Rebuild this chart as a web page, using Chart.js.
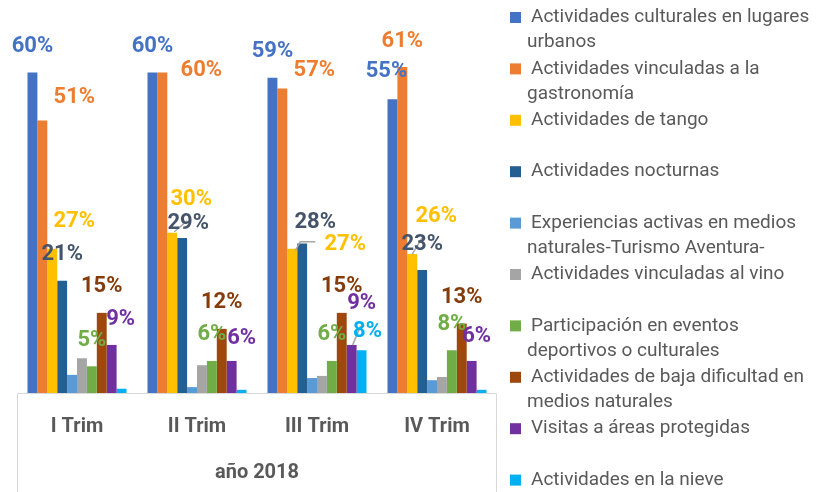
<!DOCTYPE html>
<html>
<head>
<meta charset="utf-8">
<script src="https://cdn.jsdelivr.net/npm/chart.js@4"></script>
<style>
    html, body { margin: 0; padding: 0; background: #ffffff; }
    #wrap { width: 822px; height: 492px; }
</style>
</head>
<body>
<div id="wrap"><canvas id="actChart" width="822" height="492"></canvas></div>
<script>
// quarters
const categories = ['I Trim', 'II Trim', 'III Trim', 'IV Trim'];
const axisTitle = 'año 2018';

// series names (wrapped the way the legend shows them)
const seriesNames = [
    ['Actividades culturales en lugares', 'urbanos'],
    ['Actividades vinculadas a la', 'gastronomía'],
    ['Actividades de tango'],
    ['Actividades nocturnas'],
    ['Experiencias activas en medios', 'naturales-Turismo Aventura-'],
    ['Actividades vinculadas al vino'],
    ['Participación en eventos', 'deportivos o culturales'],
    ['Actividades de baja dificultad en', 'medios naturales'],
    ['Visitas a áreas protegidas'],
    ['Actividades en la nieve']
];

// values in %
const culturales = [60, 60, 59, 55];
const gastronomia = [51, 60, 57, 61];
const tango = [27, 30, 27, 26];
const nocturnas = [21, 29, 28, 23];
const aventura = [3.4, 1.1, 2.8, 2.4];
const vino = [6.5, 5.2, 3.2, 3.0];
const eventos = [5, 6, 6, 8];
const bajaDificultad = [15, 12, 15, 13];
const protegidas = [9, 6, 9, 6];
const nieve = [0.8, 0.6, 8, 0.6];

const seriesValues = [culturales, gastronomia, tango, nocturnas, aventura,
    vino, eventos, bajaDificultad, protegidas, nieve];

const barColors = ['#4472C4', '#ED7D31', '#FFC000', '#255E91', '#5B9BD5',
    '#A5A5A5', '#70AD47', '#9E480E', '#7030A0', '#00B0F0'];
const labelColors = ['#4472C4', '#ED7D31', '#FFC000', '#44546A', '#5B9BD5',
    '#A5A5A5', '#70AD47', '#843C0C', '#7030A0', '#00B0F0'];

// labels that are not shown in the original
const hiddenLabels = ['4,0', '4,1', '4,2', '4,3', '5,0', '5,1', '5,2', '5,3',
    '9,0', '9,1', '9,3'];
// hand-moved labels: [dx, dy] from the bar top
const labelNudges = {
    '1,0': [32, -23], '2,0': [22, -27], '8,0': [9, -25],
    '1,1': [39, -2], '2,1': [19, -33], '3,1': [6, -15], '8,1': [10, -22],
    '1,2': [32, -18], '2,2': [53, -4], '3,2': [13, -21], '8,2': [10, -41], '9,2': [6, -19],
    '0,3': [-6, -28], '2,3': [24, -38], '8,3': [5, -24]
};
// leader lines, points relative to a bar top
const leaders = {
    '2,1': [[2, -1], [15, -12]],
    '2,2': [[3, 2], [8, -7], [23, -7]],
    '2,3': [[0, 0], [11, -18]],
    '8,2': [[1, 0], [9, -19]]
};

const TEXT = '#595959';
const FONT = 'Roboto, "Liberation Sans", sans-serif';

const valueLabels = {
    id: 'valueLabels',
    afterDatasetsDraw(chart) {
        const ctx = chart.ctx;
        ctx.save();
        // leader lines first
        ctx.strokeStyle = '#A6A6A6';
        ctx.lineWidth = 1.5;
        Object.entries(leaders).forEach(([key, pts]) => {
            const [i, j] = key.split(',').map(Number);
            const bar = chart.getDatasetMeta(i).data[j];
            ctx.beginPath();
            pts.forEach((p, k) => {
                if (k === 0) ctx.moveTo(bar.x + p[0], bar.y + p[1]);
                else ctx.lineTo(bar.x + p[0], bar.y + p[1]);
            });
            ctx.stroke();
        });

        ctx.font = 'bold 22px ' + FONT;
        ctx.textAlign = 'center';
        ctx.textBaseline = 'middle';
        chart.data.datasets.forEach((ds, i) => {
            chart.getDatasetMeta(i).data.forEach((bar, j) => {
                const key = i + ',' + j;
                if (hiddenLabels.includes(key)) return;
                const off = labelNudges[key] || [0, -26];
                ctx.fillStyle = labelColors[i];
                ctx.fillText(Math.round(ds.data[j]) + '%', bar.x + off[0], bar.y + off[1]);
            });
        });
        ctx.restore();
    }
};

// box under the plot like the multi-level category axis
const axisBox = {
    id: 'axisBox',
    afterDraw(chart) {
        const { ctx, chartArea } = chart;
        ctx.save();
        ctx.strokeStyle = '#D9D9D9';
        ctx.lineWidth = 1;
        ctx.beginPath();
        ctx.moveTo(chartArea.left + 0.5, chart.height);
        ctx.lineTo(chartArea.left + 0.5, chartArea.bottom + 0.5);
        ctx.lineTo(chartArea.right - 0.5, chartArea.bottom + 0.5);
        ctx.lineTo(chartArea.right - 0.5, chart.height);
        ctx.stroke();
        ctx.restore();
    }
};

const sideLegend = {
    id: 'sideLegend',
    afterDraw(chart) {
        const ctx = chart.ctx;
        ctx.save();
        ctx.font = '19px ' + FONT;
        ctx.textBaseline = 'middle';
        chart.data.datasets.forEach((ds, i) => {
            const y0 = 17.5 + i * 51.4;
            ctx.fillStyle = barColors[i];
            ctx.fillRect(510, y0 - 5.5, 11, 11);
            ctx.fillStyle = TEXT;
            seriesNames[i].forEach((line, k) => {
                ctx.fillText(line, k === 0 ? 531 : 527, y0 + k * 25);
            });
        });
        ctx.restore();
    }
};

const ctx = document.getElementById('actChart').getContext('2d');
new Chart(ctx, {
    type: 'bar',
    data: {
        labels: categories,
        datasets: seriesValues.map((values, i) => ({
            label: seriesNames[i].join(' '),
            data: values,
            backgroundColor: barColors[i],
            borderWidth: 0,
            categoryPercentage: 0.825,
            barPercentage: 1
        }))
    },
    options: {
        responsive: false,
        animation: false,
        layout: {
            padding: { left: 17, right: 325, top: 19, bottom: 7 }
        },
        plugins: {
            legend: { display: false },
            tooltip: { enabled: false }
        },
        scales: {
            y: {
                display: false,
                min: 0,
                max: 70
            },
            x: {
                grid: { display: false, drawTicks: false },
                border: { display: false },
                ticks: {
                    color: TEXT,
                    padding: 22,
                    font: { family: FONT, size: 20, weight: 'bold' }
                },
                title: {
                    display: true,
                    text: axisTitle,
                    color: TEXT,
                    padding: { top: 0, bottom: 0 },
                    font: { family: FONT, size: 20, weight: 'bold' }
                }
            }
        }
    },
    plugins: [valueLabels, axisBox, sideLegend]
});
</script>
</body>
</html>
